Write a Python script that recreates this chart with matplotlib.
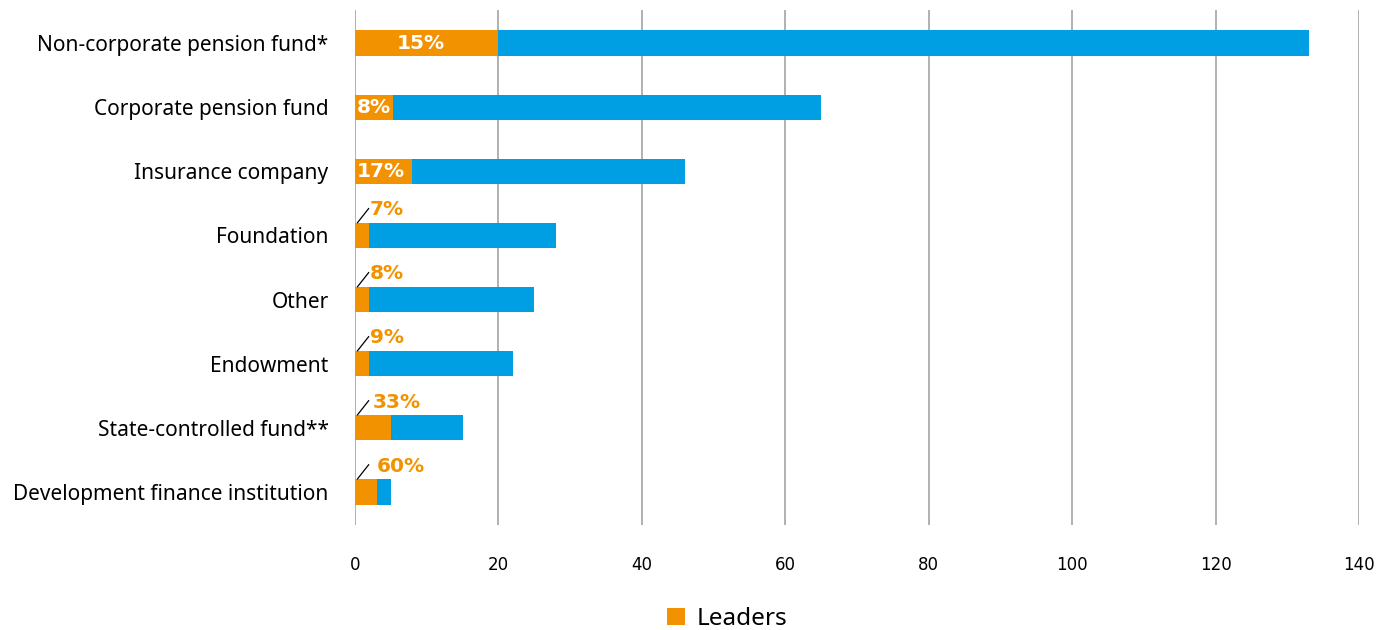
import matplotlib.pyplot as plt

categories = ['Non-corporate pension fund*', 'Corporate pension fund', 'Insurance company',
              'Foundation', 'Other', 'Endowment', 'State-controlled fund**',
              'Development finance institution']
leaders = [20, 5.3, 8, 2, 2, 2, 5, 3]
totals = [133, 65, 46, 28, 25, 22, 15, 5]
pct_labels = ['15%', '8%', '17%', '7%', '8%', '9%', '33%', '60%']
label_inside = [True, True, True, False, False, False, False, False]
xticks = [0, 20, 40, 60, 80, 100, 120, 140]

orange = '#F39200'
blue = '#009FE3'

fig = plt.figure(figsize=(13.92, 6.30), dpi=100)
ax = fig.add_axes([355 / 1392, 1 - 525 / 630, (1359 - 355) / 1392, 515 / 630])

ypos = list(range(len(categories)))
rest = [t - l for t, l in zip(totals, leaders)]
ax.barh(ypos, leaders, height=0.4, color=orange, zorder=3, label='Leaders')
ax.barh(ypos, rest, left=leaders, height=0.4, color=blue, zorder=3)

for y, lab, inside, l in zip(ypos, pct_labels, label_inside, leaders):
    if inside:
        if l > 10:
            ax.text(l / 2 - 0.8, y, lab, color='white', fontsize=14.5, fontweight='bold',
                    ha='center', va='center', zorder=4)
        else:
            ax.text(0.2, y, lab, color='white', fontsize=14.5, fontweight='bold',
                    ha='left', va='center', zorder=4)
    else:
        tx = 2.1 + 0.35 * len(lab) - 0.7 + (0.6 if lab == '60%' else 0)
        ax.text(tx, y - 0.4, lab, color=orange, fontsize=14.5, fontweight='bold',
                ha='left', va='center', zorder=4)
        ax.plot([0.35, 1.9], [y - 0.2, y - 0.42], color='black', lw=0.9, zorder=4)

ax.set_xlim(0, 140)
ax.set_ylim(7.52, -0.52)
ax.set_xticks(xticks)
ax.set_yticks(ypos)
ax.set_yticklabels(categories, fontsize=15, family='Noto Sans')
ax.tick_params(axis='y', length=0, pad=19)
ax.tick_params(axis='x', length=0, pad=22, labelsize=12)
ax.grid(axis='x', color='#AAAAAA', lw=1.3, zorder=0)
for s in ax.spines.values():
    s.set_visible(False)

fig.legend(loc='center', bbox_to_anchor=(727 / 1392, 1 - 619 / 630), frameon=False,
           handlelength=0.75, handleheight=0.75, handletextpad=0.45,
           prop={'family': 'Noto Sans', 'size': 17.5})

fig.savefig('out.png', dpi=100)
